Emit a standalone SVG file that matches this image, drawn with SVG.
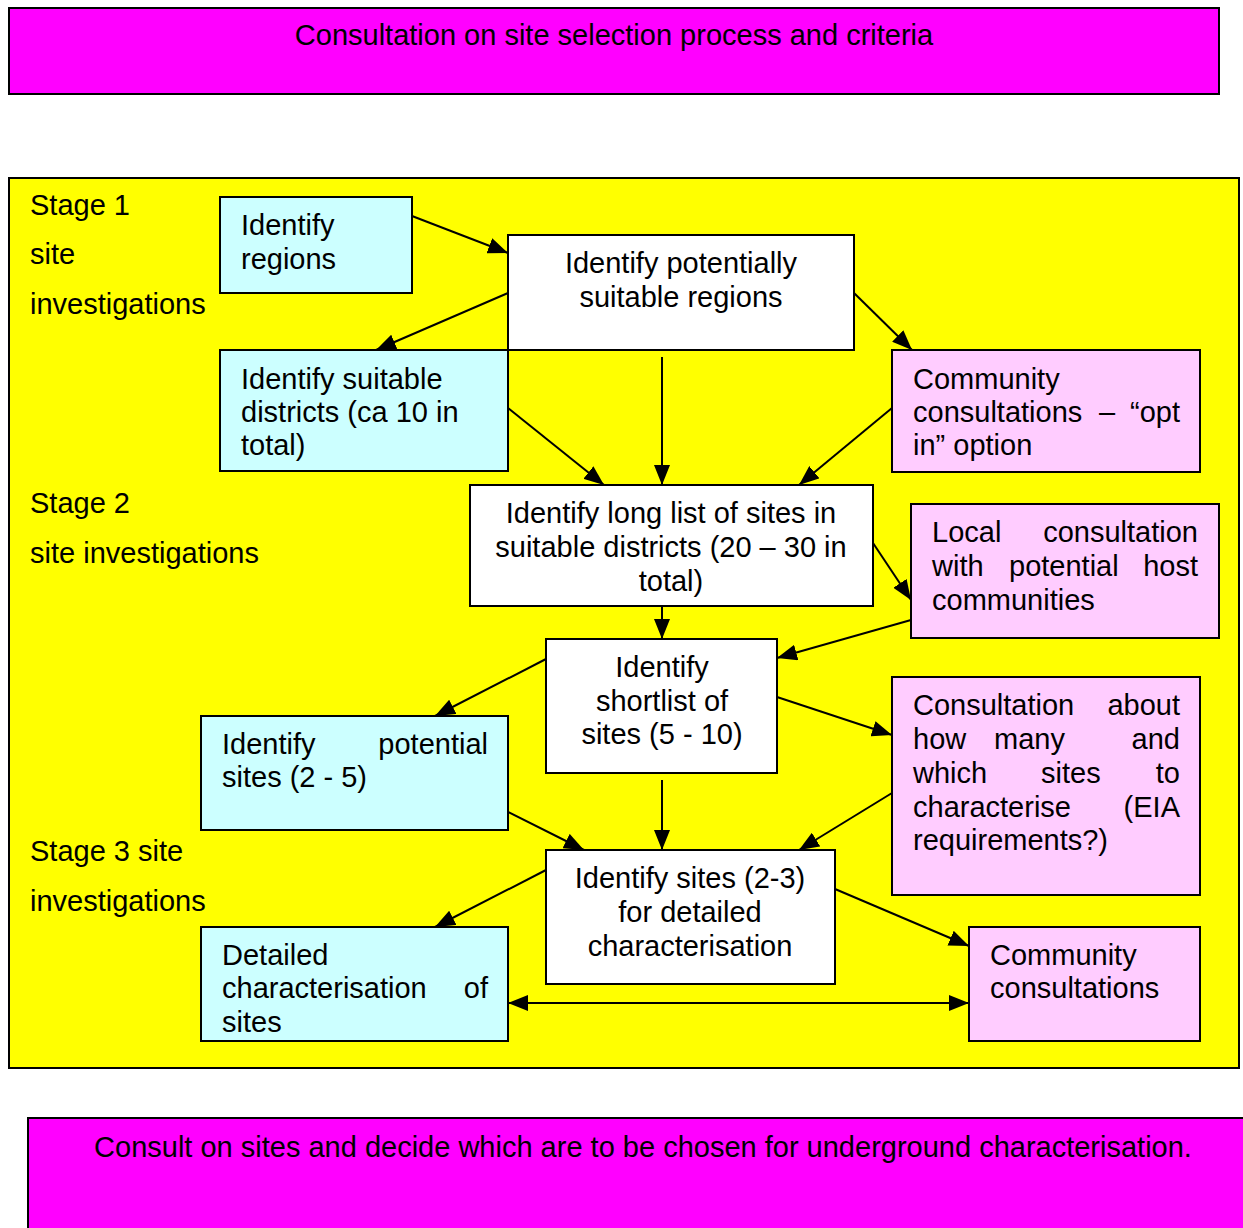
<svg xmlns="http://www.w3.org/2000/svg" width="1243" height="1228" viewBox="0 0 1243 1228">
<defs>
<style>
text{font-family:"Liberation Sans",Arial,sans-serif;font-size:29px;fill:#000}
.c{text-anchor:middle}
.e{text-anchor:end}
.box{stroke:#000;stroke-width:2}
.cy{fill:#CCFFFF}
.pk{fill:#FFCCFF}
.wh{fill:#FFFFFF}
.mg{fill:#FF00FF}
#connectors line{stroke:#000;stroke-width:2;fill:none}
</style>
<marker id="ah" markerWidth="20" markerHeight="16" refX="20" refY="8" orient="auto-start-reverse" markerUnits="userSpaceOnUse"><path d="M0,0 L20,8 L0,16 z" fill="#000"/></marker>
</defs>
<rect width="1243" height="1228" fill="#fff"/>

<g id="top-banner">
<rect class="box mg" x="9" y="8" width="1210" height="86"/>
<text class="c" x="614" y="45">Consultation on site selection process and criteria</text>
</g>

<g id="stage-area">
<rect class="box" x="9" y="178" width="1230" height="890" fill="#FFFF00"/>
<text x="30" y="215">Stage 1</text>
<text x="30" y="264">site</text>
<text x="30" y="314">investigations</text>
<text x="30" y="513">Stage 2</text>
<text x="30" y="563">site investigations</text>
<text x="30" y="861">Stage 3 site</text>
<text x="30" y="911">investigations</text>
</g>

<g id="connectors">
<line x1="412" y1="216" x2="508" y2="253" marker-end="url(#ah)"/>
<line x1="508" y1="293" x2="376" y2="350" marker-end="url(#ah)"/>
<line x1="854" y1="293" x2="912" y2="350" marker-end="url(#ah)"/>
<line x1="662" y1="357" x2="662" y2="485" marker-end="url(#ah)"/>
<line x1="508" y1="408" x2="604" y2="485" marker-end="url(#ah)"/>
<line x1="892" y1="408" x2="799" y2="485" marker-end="url(#ah)"/>
<line x1="873" y1="543" x2="911" y2="600" marker-end="url(#ah)"/>
<line x1="662" y1="606" x2="662" y2="639" marker-end="url(#ah)"/>
<line x1="911" y1="620" x2="777" y2="658" marker-end="url(#ah)"/>
<line x1="546" y1="659" x2="435" y2="716" marker-end="url(#ah)"/>
<line x1="777" y1="697" x2="892" y2="735" marker-end="url(#ah)"/>
<line x1="662" y1="780" x2="662" y2="850" marker-end="url(#ah)"/>
<line x1="508" y1="812" x2="584" y2="850" marker-end="url(#ah)"/>
<line x1="892" y1="793" x2="799" y2="850" marker-end="url(#ah)"/>
<line x1="546" y1="870" x2="435" y2="927" marker-end="url(#ah)"/>
<line x1="835" y1="889" x2="969" y2="946" marker-end="url(#ah)"/>
<line x1="508" y1="1003" x2="969" y2="1003" marker-start="url(#ah)" marker-end="url(#ah)"/>
</g>

<g id="identify-regions">
<rect class="box cy" x="220" y="197" width="192" height="96"/>
<text x="241" y="235">Identify</text>
<text x="241" y="269">regions</text>
</g>

<g id="potentially-suitable-regions">
<rect class="box wh" x="508" y="235" width="346" height="115"/>
<text class="c" x="681" y="273">Identify potentially</text>
<text class="c" x="681" y="307">suitable regions</text>
</g>

<g id="suitable-districts">
<rect class="box cy" x="220" y="350" width="288" height="121"/>
<text x="241" y="389">Identify suitable</text>
<text x="241" y="422">districts (ca 10 in</text>
<text x="241" y="455">total)</text>
</g>

<g id="community-opt-in">
<rect class="box pk" x="892" y="350" width="308" height="122"/>
<text x="913" y="389">Community</text>
<text x="913" y="422">consultations</text>
<text x="1099" y="422">–</text>
<text class="e" x="1180" y="422">“opt</text>
<text x="913" y="455">in” option</text>
</g>

<g id="long-list">
<rect class="box wh" x="470" y="485" width="403" height="121"/>
<text class="c" x="671" y="523">Identify long list of sites in</text>
<text class="c" x="671" y="557">suitable districts (20 – 30 in</text>
<text class="c" x="671" y="591">total)</text>
</g>

<g id="local-consultation">
<rect class="box pk" x="911" y="504" width="308" height="134"/>
<text x="932" y="542">Local</text>
<text class="e" x="1198" y="542">consultation</text>
<text x="932" y="576">with</text>
<text x="1009" y="576">potential</text>
<text class="e" x="1198" y="576">host</text>
<text x="932" y="610">communities</text>
</g>

<g id="shortlist">
<rect class="box wh" x="546" y="639" width="231" height="134"/>
<text class="c" x="662" y="677">Identify</text>
<text class="c" x="662" y="711">shortlist of</text>
<text class="c" x="662" y="744">sites (5 - 10)</text>
</g>

<g id="potential-sites">
<rect class="box cy" x="201" y="716" width="307" height="114"/>
<text x="222" y="754">Identify</text>
<text class="e" x="488" y="754">potential</text>
<text x="222" y="787">sites (2 - 5)</text>
</g>

<g id="consultation-how-many">
<rect class="box pk" x="892" y="677" width="308" height="218"/>
<text x="913" y="715">Consultation</text>
<text class="e" x="1180" y="715">about</text>
<text x="913" y="749">how</text>
<text x="994" y="749">many</text>
<text class="e" x="1180" y="749">and</text>
<text x="913" y="783">which</text>
<text x="1041" y="783">sites</text>
<text class="e" x="1180" y="783">to</text>
<text x="913" y="817">characterise</text>
<text class="e" x="1180" y="817">(EIA</text>
<text x="913" y="850">requirements?)</text>
</g>

<g id="sites-detailed">
<rect class="box wh" x="546" y="850" width="289" height="134"/>
<text class="c" x="690" y="888">Identify sites (2-3)</text>
<text class="c" x="690" y="922">for detailed</text>
<text class="c" x="690" y="956">characterisation</text>
</g>

<g id="detailed-characterisation">
<rect class="box cy" x="201" y="927" width="307" height="114"/>
<text x="222" y="965">Detailed</text>
<text x="222" y="998">characterisation</text>
<text class="e" x="488" y="998">of</text>
<text x="222" y="1032">sites</text>
</g>

<g id="community-consultations">
<rect class="box pk" x="969" y="927" width="231" height="114"/>
<text x="990" y="965">Community</text>
<text x="990" y="998">consultations</text>
</g>

<g id="bottom-banner">
<rect class="box mg" x="28" y="1118" width="1240" height="130"/>
<text class="c" x="643" y="1157">Consult on sites and decide which are to be chosen for underground characterisation.</text>
</g>
</svg>
